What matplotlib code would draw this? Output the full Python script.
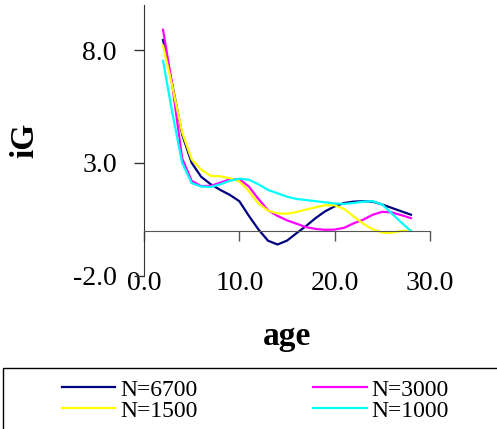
import matplotlib
matplotlib.use("Agg")
import matplotlib.pyplot as plt
from matplotlib.patches import Rectangle

plt.rcParams['font.family'] = ['Liberation Serif', 'DejaVu Serif']

age = [2, 3, 4, 5, 6, 7, 8, 9, 10, 11, 12, 13, 14, 15, 16, 17, 18, 19, 20,
       21, 22, 23, 24, 25, 26, 27, 28]

n6700 = [8.45, 6.4, 4.26, 3.0, 2.38, 2.05, 1.8, 1.58, 1.3, 0.65, 0.05, -0.45,
         -0.62, -0.45, -0.12, 0.2, 0.55, 0.85, 1.07, 1.22, 1.28, 1.3, 1.28,
         1.15, 1.0, 0.85, 0.7]
n3000 = [8.9, 6.35, 3.2, 2.2, 1.97, 1.98, 2.12, 2.27, 2.28, 1.95, 1.4, 0.9,
         0.65, 0.45, 0.3, 0.15, 0.07, 0.03, 0.04, 0.12, 0.32, 0.48, 0.7,
         0.83, 0.8, 0.68, 0.55]
n1500 = [8.2, 6.33, 4.35, 3.15, 2.7, 2.42, 2.4, 2.32, 2.18, 1.75, 1.2, 0.88,
         0.76, 0.74, 0.82, 0.93, 1.03, 1.12, 1.12, 0.95, 0.62, 0.3, 0.05,
         -0.1, -0.1, -0.02, 0.0]
n1000 = [7.52, 5.15, 3.0, 2.1, 1.95, 1.93, 2.05, 2.2, 2.3, 2.25, 2.05, 1.8,
         1.65, 1.5, 1.4, 1.35, 1.3, 1.25, 1.2, 1.18, 1.22, 1.28, 1.3, 1.15,
         0.75, 0.35, -0.02]

labels = ['N=6700', 'N=3000', 'N=1500', 'N=1000']
colors = ['#000080', '#FF00FF', '#FFFF00', '#00FFFF']
series = [n6700, n3000, n1500, n1000]

xticks = [0, 10, 20, 30]
xticklabels = ['0.0', '10.0', '20.0', '30.0']
yticks = [-2, 3, 8]
yticklabels = ['-2.0', '3.0', '8.0']

W, H = 497, 429
fig = plt.figure(figsize=(W / 100, H / 100), dpi=100)
left, right, top, bottom = 144, 430, 5, 275.6
ax = fig.add_axes([left / W, 1 - bottom / H, (right - left) / W, (bottom - top) / H])

lines = {}
for lab, col, vals in zip(labels, colors, series):
    ln, = ax.plot(age, vals, color=col, lw=1.6, label=lab)
    lines[lab] = ln

ax.set_xlim(0, 30)
ax.set_ylim(-2, 10)
ax.spines['top'].set_visible(False)
ax.spines['right'].set_visible(False)
ax.spines['bottom'].set_position(('data', 0))
ax.spines['bottom'].set_color('#555555')
ax.spines['left'].set_color('#333333')
ax.set_xticks(xticks)
ax.set_xticklabels(xticklabels)
ax.set_yticks(yticks)
ax.set_yticklabels(yticklabels)
ax.tick_params(axis='x', direction='out', length=7.5, width=1, color='#555555',
               labelsize=20, pad=22)
ax.tick_params(axis='y', direction='out', length=7.5, width=1, color='#333333',
               labelsize=20, pad=12)

fig.text(25 / W, 1 - 140 / H, 'iG', rotation=90, fontsize=24, fontweight='bold',
         ha='center', va='center')
fig.text(287 / W, 1 - 336 / H, 'age', fontsize=24, fontweight='bold',
         ha='center', va='center')

fig.patches.append(Rectangle((3 / W, -0.2), 1.5, (1 - 368.3 / H) + 0.2,
                             transform=fig.transFigure, fill=False,
                             edgecolor='black', lw=1.0))

order = ['N=6700', 'N=1500', 'N=3000', 'N=1000']
fig.legend([lines[k] for k in order], order, loc='upper left',
           bbox_to_anchor=(62 / W, 1 - 379 / H), ncol=2, frameon=False,
           fontsize=17, handlelength=2.25, handletextpad=0.22,
           columnspacing=4.9, labelspacing=-0.02, borderpad=0, borderaxespad=0)

fig.savefig('out.png', dpi=100)
